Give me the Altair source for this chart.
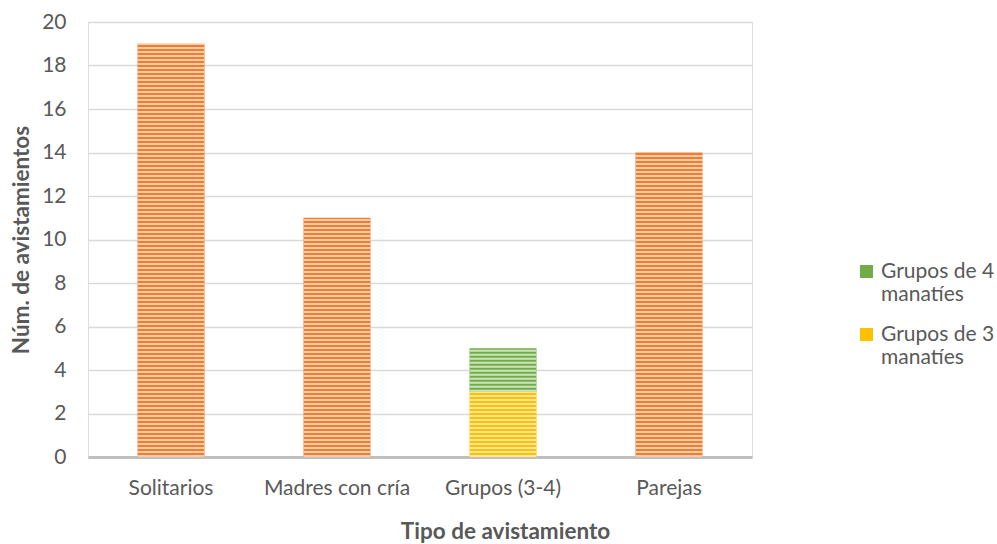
import altair as alt
import pandas as pd

# Sightings by type; the group category is split into groups of 3 and 4 manatees
categorias = ["Solitarios", "Madres con cría", "Grupos (3-4)", "Grupos (3-4)", "Parejas"]
series = ["Avistamientos", "Avistamientos", "Grupos de 3 manatíes", "Grupos de 4 manatíes", "Avistamientos"]
valores = [19, 11, 3, 2, 14]
orden = [0, 0, 0, 1, 0]

orden_categorias = ["Solitarios", "Madres con cría", "Grupos (3-4)", "Parejas"]
dominio_series = ["Grupos de 4 manatíes", "Grupos de 3 manatíes", "Avistamientos"]
colores_oscuros = ["#70AD47", "#FFC000", "#ED7D31"]
colores_claros = ["#CDE3BD", "#FFE69A", "#F9CBA8"]

df = pd.DataFrame({
    "categoria": categorias,
    "serie": series,
    "valor": valores,
    "orden": orden,
})

FUENTE = "Lato"
GRIS = "#595959"
TAM = 21
TAM_TITULO = 22.5
ANCHO_BARRA = 67

base = alt.Chart(df).transform_stack(
    stack="valor",
    groupby=["categoria"],
    as_=["y0", "y1"],
    sort=[alt.SortField("orden", order="ascending")],
)

x_enc = alt.X(
    "categoria:N",
    sort=orden_categorias,
    scale=alt.Scale(paddingInner=0.6, paddingOuter=0.3),
    axis=alt.Axis(
        title="Tipo de avistamiento",
        labelAngle=0,
        labelPadding=20,
        labelFontSize=TAM,
        labelColor=GRIS,
        labelFont=FUENTE,
        ticks=False,
        domainColor="#BFBFBF",
        domainWidth=3,
        titleFontSize=TAM_TITULO,
        titleFontWeight="bold",
        titleColor=GRIS,
        titleFont=FUENTE,
        titleX=417,
        titleY=63,
    ),
)

y_scale = alt.Scale(domain=[0, 20])

barras = base.mark_bar(size=ANCHO_BARRA).encode(
    x=x_enc,
    y=alt.Y(
        "y0:Q",
        scale=y_scale,
        axis=alt.Axis(
            title="Núm. de avistamientos",
            values=list(range(0, 21, 2)),
            labelFontSize=TAM,
            labelColor=GRIS,
            labelFont=FUENTE,
            labelPadding=22,
            ticks=False,
            domain=False,
            gridColor="#D9D9D9",
            gridWidth=1.5,
            titleFontSize=TAM_TITULO,
            titleFontWeight="bold",
            titleColor=GRIS,
            titleFont=FUENTE,
            titlePadding=8,
        ),
    ),
    y2="y1:Q",
    fill=alt.Fill(
        "serie:N",
        scale=alt.Scale(domain=dominio_series, range=colores_oscuros),
        legend=alt.Legend(
            title=None,
            values=["Grupos de 4 manatíes", "Grupos de 3 manatíes"],
            orient="none",
            legendX=768,
            legendY=239,
            symbolType="square",
            symbolSize=169,
            symbolStrokeWidth=0,
            labelFontSize=TAM,
            labelColor=GRIS,
            labelFont=FUENTE,
            labelLimit=200,
            labelOffset=4,
            rowPadding=18,
            labelExpr="split(replace(datum.label, ' manatíes', '|manatíes'), '|')",
        ),
    ),
)

# Thin pale bands across each bar give it the striped fill
rayas = base.mark_rule(strokeWidth=ANCHO_BARRA, strokeDash=[2, 2]).encode(
    x=alt.X("categoria:N", sort=orden_categorias),
    y=alt.Y("y0:Q", scale=y_scale),
    y2="y1:Q",
    stroke=alt.Stroke(
        "serie:N",
        scale=alt.Scale(domain=dominio_series, range=colores_claros),
        legend=None,
    ),
)

chart = alt.layer(barras, rayas).resolve_scale(fill="independent", stroke="independent").properties(
    width=664,
    height=435,
    autosize=alt.AutoSizeParams(type="none"),
    padding={"left": 88, "top": 22, "right": 245, "bottom": 87},
).configure_view(stroke=None).configure(background="white")

chart.save("out.html", embed_options={"renderer": "svg", "actions": False})
